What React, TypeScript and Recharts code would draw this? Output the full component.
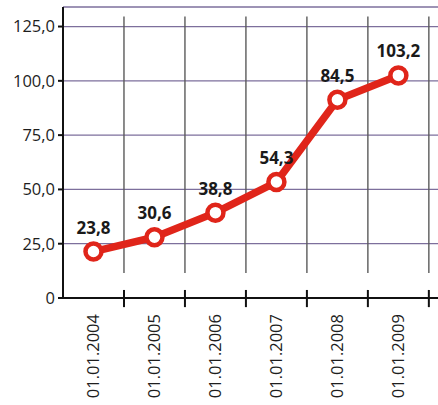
import { LineChart, Line, XAxis, YAxis, CartesianGrid, ReferenceLine, LabelList } from 'recharts';

const categories = ['01.01.2004', '01.01.2005', '01.01.2006', '01.01.2007', '01.01.2008', '01.01.2009'];
// positions as drawn in the picture (the printed labels differ slightly)
const values = [21.4, 28.0, 39.3, 53.4, 91.3, 102.5];
const valueLabels = ['23,8', '30,6', '38,8', '54,3', '84,5', '103,2'];
const yTicks = [0, 25, 50, 75, 100, 125];
const boundaries = [1, 2, 3, 4, 5, 6];

const data = categories.map((date, i) => ({
  x: i + 0.5,
  date,
  value: values[i],
  label: valueLabels[i],
}));

const font = '"Open Sans", sans-serif';

const formatY = (v: number) => (v === 0 ? '0' : v.toFixed(1).replace('.', ','));

function DateTick({ x, y, payload }: any) {
  const idx = Math.round(payload.value - 0.5);
  const ty = y + 8;
  return (
    <text
      x={x}
      y={ty}
      transform={`rotate(-90, ${x}, ${ty})`}
      textAnchor="end"
      dy="0.35em"
      fontFamily={font}
      fontSize={16.5}
      fill="#1e1e1e"
    >
      {categories[idx]}
    </text>
  );
}

export default function App() {
  return (
    <div style={{ width: 438, height: 405 }}>
      <style>{`body{margin:0;background:#fff}`}</style>
      <LineChart width={438} height={405} data={data} margin={{ top: 7, right: 0, left: 0, bottom: 0 }}>
        <CartesianGrid vertical={false} stroke="#7d6f9c" strokeWidth={1.3} />
        <XAxis
          type="number"
          dataKey="x"
          domain={[0, 6.15]}
          ticks={[0.5, 1.5, 2.5, 3.5, 4.5, 5.5]}
          allowDataOverflow
          tick={<DateTick />}
          tickLine={false}
          axisLine={{ stroke: '#111', strokeWidth: 2 }}
          height={107}
          interval={0}
        />
        <YAxis
          domain={[0, 134]}
          ticks={yTicks}
          allowDataOverflow
          width={63}
          tickSize={5}
          tickMargin={3}
          tickFormatter={formatY}
          tick={{ fontFamily: font, fontSize: 16.5, fill: '#1e1e1e' }}
          tickLine={{ stroke: '#111', strokeWidth: 2 }}
          axisLine={{ stroke: '#111', strokeWidth: 2 }}
        />
        {boundaries.map((b) => (
          <ReferenceLine
            key={`g${b}`}
            segment={[{ x: b, y: 11.5 }, { x: b, y: 129.6 }]}
            stroke="#5a5a5a"
            strokeWidth={1.4}
            ifOverflow="visible"
          />
        ))}
        {boundaries.map((b) => (
          <ReferenceLine
            key={`t${b}`}
            segment={[{ x: b, y: 3.7 }, { x: b, y: -4.2 }]}
            stroke="#111"
            strokeWidth={2}
            ifOverflow="visible"
          />
        ))}
        <Line
          type="linear"
          dataKey="value"
          stroke="#e0251a"
          strokeWidth={7.5}
          dot={{ r: 8, fill: '#fff', stroke: '#e0251a', strokeWidth: 4.5 }}
          activeDot={false}
          isAnimationActive={false}
        >
          <LabelList
            dataKey="label"
            position="top"
            offset={18}
            style={{ fontFamily: font, fontSize: 17, fontWeight: 700, fill: '#1a1a1a' }}
          />
        </Line>
      </LineChart>
    </div>
  );
}
